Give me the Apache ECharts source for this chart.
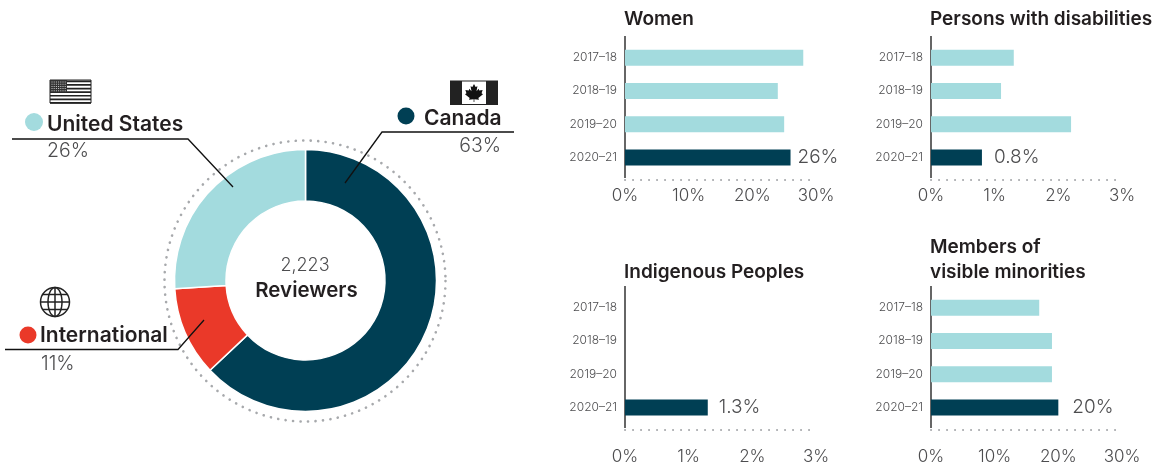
<!DOCTYPE html>
<html>
<head>
<meta charset="utf-8">
<style>
html, body { margin: 0; padding: 0; background: #fff; }
#chart { width: 1156px; height: 466px; }
</style>
<script src="https://cdn.jsdelivr.net/npm/echarts@6/dist/echarts.min.js"></script>
</head>
<body>
<div id="chart"></div>
<script>
// data
var regions = ['Canada', 'International', 'United States'];
var regionShares = [63, 11, 26];
var years = ['2017–18', '2018–19', '2019–20', '2020–21'];
var women = [28, 24, 25, 26];
var disabilities = [1.3, 1.1, 2.2, 0.8];
var indigenous = [0, 0, 0, 1.3];
var minorities = [17, 19, 19, 20];
var lastLabels = ['26%', '0.8%', '1.3%', '20%'];
var panelTitles = ['Women', 'Persons with disabilities', 'Indigenous Peoples', 'Members of\nvisible minorities'];

var FONT = 'Inter';
var DARK = '#003f54', LIGHT = '#a3dbde', RED = '#ea3929', INK = '#231f20', SOFT = '#4d4d4f';

var panels = [
    { values: women, max: 30, step: 10, left: 625, top: 41, margin: 13, gap: 7 },
    { values: disabilities, max: 3, step: 1, left: 931, top: 41, margin: 13, gap: 12 },
    { values: indigenous, max: 3, step: 1, left: 625, top: 291, margin: 24, gap: 11 },
    { values: minorities, max: 30, step: 10, left: 931, top: 291, margin: 24, gap: 14 }
];

var grid = [], xAxis = [], yAxis = [], series = [], title = [], graphic = [];

panels.forEach(function (p, i) {
    grid.push({ left: p.left, top: p.top, width: 191, height: 133 });
    xAxis.push({
        gridIndex: i, type: 'value', min: 0, max: p.max, interval: p.step,
        axisLine: { show: false }, axisTick: { show: false }, splitLine: { show: false },
        axisLabel: {
            formatter: '{value}%', margin: p.margin, fontFamily: FONT, fontSize: 17,
            fontWeight: 300, color: SOFT, hideOverlap: false, showMinLabel: true, showMaxLabel: true
        }
    });
    yAxis.push({
        gridIndex: i, type: 'category', data: years, inverse: true,
        axisLine: { show: false }, axisTick: { show: false },
        axisLabel: { margin: 8, fontFamily: FONT, fontSize: 12, fontWeight: 300, color: SOFT }
    });
    series.push({
        type: 'bar', xAxisIndex: i, yAxisIndex: i, barWidth: 16, silent: true, animation: false,
        data: p.values.map(function (v, k) {
            return {
                value: v,
                itemStyle: { color: k === years.length - 1 ? DARK : LIGHT },
                label: k === years.length - 1 ? {
                    show: true, position: 'right', distance: p.gap, formatter: lastLabels[i],
                    fontFamily: FONT, fontSize: 19, fontWeight: 300, color: SOFT
                } : { show: false }
            };
        })
    });
    title.push({
        text: panelTitles[i], left: p.left - 1, top: i === 3 ? 235 : (i === 2 ? 260 : 7), padding: 0,
        textStyle: { fontFamily: FONT, fontSize: 19, fontWeight: 600, color: INK, lineHeight: 25 }
    });
    // axis stem and dotted base
    var stemTop = p.top - 5;
    graphic.push({ type: 'line', shape: { x1: p.left, y1: stemTop, x2: p.left, y2: stemTop + 142 }, style: { stroke: '#333', lineWidth: 1.5 }, silent: true });
    graphic.push({
        type: 'line', shape: { x1: p.left, y1: stemTop + 144, x2: p.left + 186, y2: stemTop + 144 },
        style: { stroke: '#a7a9ac', lineWidth: 2, lineDash: [0.1, 7.9], lineCap: 'round' }, silent: true
    });
});

series.push({
    type: 'pie', center: [305.5, 280.5], radius: [79.5, 131], startAngle: 90, clockwise: true,
    silent: true, animation: false, label: { show: false }, labelLine: { show: false },
    itemStyle: { borderColor: '#fff', borderWidth: 1.5 },
    data: regions.map(function (r, k) {
        return { name: r, value: regionShares[k], itemStyle: { color: [DARK, RED, LIGHT][k] } };
    })
});

function txt(text, x, y, size, weight, color, align) {
    return {
        type: 'text', x: x, y: y, silent: true, z: 10,
        style: { text: text, fontFamily: FONT, fontSize: size, fontWeight: weight, fill: color, align: align || 'left', verticalAlign: 'middle' }
    };
}
function leader(points) {
    return { type: 'polyline', shape: { points: points }, style: { stroke: '#111', lineWidth: 1.3, fill: null }, silent: true, z: 10 };
}
function dot(x, y, r, color) {
    return { type: 'circle', shape: { cx: x, cy: y, r: r }, style: { fill: color }, silent: true, z: 10 };
}

// dotted ring round the donut
graphic.push({ type: 'circle', shape: { cx: 305, cy: 281, r: 140.5 }, style: { fill: null, stroke: '#a7a9ac', lineWidth: 2.6, lineDash: [0.1, 7.4], lineCap: 'round' }, silent: true });

graphic.push(txt('2,223', 305, 265.5, 18, 300, SOFT, 'center'));
graphic.push(txt('Reviewers', 306.5, 291, 20.5, 600, INK, 'center'));

graphic.push(leader([[12, 139], [188, 139], [233, 187]]));
graphic.push(dot(34, 122, 9, LIGHT));
graphic.push(txt('United States', 47, 124.5, 21, 600, INK));
graphic.push(txt('26%', 47, 151.5, 19.5, 300, SOFT));

graphic.push(leader([[514, 132], [382, 132], [345, 183]]));
graphic.push(dot(406, 116, 8.5, DARK));
graphic.push(txt('Canada', 424, 118.5, 21, 600, INK));
graphic.push(txt('63%', 501, 146, 19.5, 300, SOFT, 'right'));

graphic.push(leader([[5, 349.5], [178, 349.5], [204, 320]]));
graphic.push(dot(28, 335, 8.5, RED));
graphic.push(txt('International', 40, 336, 21, 600, INK));
graphic.push(txt('11%', 41, 364.5, 19.5, 300, SOFT));

// US flag
graphic.push({ type: 'rect', shape: { x: 50, y: 80, width: 41, height: 23 }, style: { fill: '#fff', stroke: '#222', lineWidth: 1 }, silent: true });
for (var s = 0; s < 7; s++) {
    graphic.push({ type: 'rect', shape: { x: 50, y: 80.5 + s * 3.6, width: 41, height: 1.7 }, style: { fill: '#222' }, silent: true });
}
graphic.push({ type: 'rect', shape: { x: 50, y: 80, width: 17, height: 12.5 }, style: { fill: '#333' }, silent: true });
for (var r = 0; r < 5; r++) {
    for (var c = 0; c < 7; c++) {
        graphic.push({ type: 'rect', shape: { x: 51.5 + c * 2.2, y: 81.5 + r * 2.2, width: 1, height: 1 }, style: { fill: '#ccc' }, silent: true });
    }
}

// Canadian flag
graphic.push({ type: 'rect', shape: { x: 450, y: 80.5, width: 48, height: 24.5 }, style: { fill: '#222' }, silent: true });
graphic.push({ type: 'rect', shape: { x: 462, y: 81.5, width: 24, height: 22.5 }, style: { fill: '#fff' }, silent: true });
var leaf = [[50, 0], [59, 17], [69, 12], [64, 40], [76, 27], [79, 36], [98, 33], [92, 52], [100, 57], [74, 78], [78, 88], [52, 85], [52, 100], [48, 100], [48, 85], [22, 88], [26, 78], [0, 57], [8, 52], [2, 33], [21, 36], [24, 27], [36, 40], [31, 12], [41, 17]];
graphic.push({
    type: 'polygon', silent: true,
    shape: { points: leaf.map(function (q) { return [465 + q[0] * 0.18, 84 + q[1] * 0.18]; }) },
    style: { fill: '#111' }
});

// globe
var globeStroke = { fill: null, stroke: '#222', lineWidth: 1.5 };
graphic.push({ type: 'circle', shape: { cx: 55, cy: 302, r: 14.5 }, style: globeStroke, silent: true });
var meridian = [];
for (var a = 0; a <= 36; a++) {
    meridian.push([55 + 7 * Math.cos(a * Math.PI / 18), 302 + 14.5 * Math.sin(a * Math.PI / 18)]);
}
graphic.push({ type: 'polyline', shape: { points: meridian }, style: globeStroke, silent: true });
graphic.push({ type: 'line', shape: { x1: 55, y1: 287.5, x2: 55, y2: 316.5 }, style: globeStroke, silent: true });
graphic.push({ type: 'line', shape: { x1: 40.5, y1: 302, x2: 69.5, y2: 302 }, style: globeStroke, silent: true });
graphic.push({ type: 'line', shape: { x1: 43, y1: 294.5, x2: 67, y2: 294.5 }, style: globeStroke, silent: true });
graphic.push({ type: 'line', shape: { x1: 43, y1: 309.5, x2: 67, y2: 309.5 }, style: globeStroke, silent: true });

var chart = echarts.init(document.getElementById('chart'), null, { renderer: 'canvas' });
chart.setOption({
    backgroundColor: '#fff',
    animation: false,
    title: title,
    grid: grid,
    xAxis: xAxis,
    yAxis: yAxis,
    series: series,
    graphic: { elements: graphic }
});
</script>
</body>
</html>
